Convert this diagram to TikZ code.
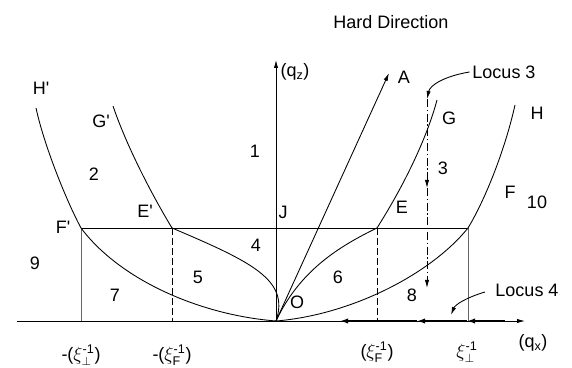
\documentclass[tikz,border=0pt]{standalone}
\usepackage{amsmath}
\usepackage{amssymb}
\usepackage{fontspec}
\setmainfont{Liberation Sans}
\usepackage{tikz}
\usetikzlibrary{arrows.meta}

\begin{document}
\begin{tikzpicture}[x=0.75pt,y=-0.75pt,
    lbl/.style={font=\fontsize{13.5}{15}\selectfont,inner sep=2pt},
    tip/.style={-{Latex[length=6pt,width=3.2pt]}},
    bound/.style={line width=0.65pt},
    locus/.style={line width=1.4pt}]
    \fill[white] (0,0) rectangle (572,366);

    % reference points
    \coordinate (O) at (276,321);
    \coordinate (qxS) at (17,321);
    \coordinate (qxE) at (525,321);
    \coordinate (qzE) at (276,60);
    \coordinate (A) at (389,73);
    \coordinate (Fp) at (81,228);
    \coordinate (Ep) at (172,228);
    \coordinate (E) at (377,228);
    \coordinate (F) at (468,228);
    \coordinate (Fpb) at (81,321);
    \coordinate (Epb) at (172,321);
    \coordinate (Eb) at (377,321);
    \coordinate (Fb) at (468,321);
    \coordinate (Hp) at (36,108);
    \coordinate (Gp) at (113,106);
    \coordinate (G) at (437,100);
    \coordinate (H) at (515,105);

    % axes
    \draw[bound,tip] (qxS) -- (qxE);
    \draw[bound,tip] (O) -- (qzE);
    \draw[bound,tip] (O) -- (A);

    % boxes
    \draw[bound] (Fp) -- (F);
    \draw[bound,gray!80!black] (Fp) -- (Fpb);
    \draw[bound,gray!80!black] (F) -- (Fb);
    \draw[bound,dash pattern=on 5pt off 2.5pt] (Ep) -- (Epb);
    \draw[bound,dash pattern=on 5pt off 2.5pt] (E) -- (Eb);

    % boundaries
    \draw[bound] (Hp) .. controls (44,145) and (66,200) .. (Fp);
    \draw[bound] (Gp) .. controls (128,150) and (155,200) .. (Ep);
    \draw[bound] (E) .. controls (398,195) and (425,145) .. (G);
    \draw[bound] (F) .. controls (485,200) and (505,150) .. (H);
    \draw[bound] (Ep) .. controls (252,262) and (290,280) .. (O);
    \draw[bound] (O) .. controls (300,270) and (340,246) .. (E);
    \draw[bound] (Fp) .. controls (120,280) and (200,315) .. (O);
    \draw[bound] (F) .. controls (430,275) and (350,315) .. (O);

    % locus 3
    \coordinate (L3top) at (427,99);
    \coordinate (L3mid) at (427,188);
    \coordinate (L3end) at (427,288);
    \draw[bound,tip,dash pattern=on 6pt off 2pt on 1pt off 2pt] (L3top) -- (L3mid);
    \draw[bound,tip,dash pattern=on 6pt off 2pt on 1pt off 2pt] (L3mid) -- (L3end);
    \node[lbl] (loc3) at (504,72) {Locus 3};
    \draw[bound,tip] (loc3.west) .. controls (445,76) and (430,85) .. (L3top);

    % locus 4
    \coordinate (L4a) at (505,321);
    \coordinate (L4b) at (467,321);
    \coordinate (L4c) at (417,321);
    \coordinate (L4d) at (340,321);
    \draw[locus,-{Latex[length=6pt,width=4pt]}] (L4a) -- (L4b);
    \draw[locus,-{Latex[length=6pt,width=4pt]}] (L4b) -- (L4c);
    \draw[locus,-{Latex[length=6pt,width=4pt]}] (L4c) -- (L4d);
    \node[lbl] (loc4) at (527,290) {Locus 4};
    \coordinate (loc4tail) at (485,292);
    \coordinate (loc4head) at (451,315);
    \draw[bound,tip] (loc4tail) .. controls (465,298) and (455,305) .. (loc4head);

    % labels
    \node[lbl] (hard) at (391,22) {Hard Direction};
    \node[lbl] (qz) at (295,72) {(q\textsubscript{z})};
    \node[lbl] (lA) at (404,77) {A};
    \node[lbl] (lHp) at (41,88) {H\textquotesingle};
    \node[lbl] (lGp) at (101,121) {G\textquotesingle};
    \node[lbl] (lG) at (449,118) {G};
    \node[lbl] (lH) at (537,113) {H};
    \node[lbl] (r1) at (255,151) {1};
    \node[lbl] (r2) at (94,174) {2};
    \node[lbl] (r3) at (443,168) {3};
    \node[lbl] (lEp) at (145,211) {E\textquotesingle};
    \node[lbl] (lJ) at (283,212) {J};
    \node[lbl] (lE) at (402,207) {E};
    \node[lbl] (lF) at (510,192) {F};
    \node[lbl] (r10) at (537,202) {10};
    \node[lbl] (lFp) at (63,227) {F\textquotesingle};
    \node[lbl] (r4) at (256,245) {4};
    \node[lbl] (r9) at (35,263) {9};
    \node[lbl] (r5) at (198,277) {5};
    \node[lbl] (r6) at (338,277) {6};
    \node[lbl] (r7) at (115,295) {7};
    \node[lbl] (r8) at (412,295) {8};
    \node[lbl] (lO) at (297,302) {O};
    \node[lbl] (qx) at (533,343) {(q\textsubscript{x})};
    \node[lbl] (xpm) at (81,355) {-($\xi^{\text{-1}}_{\perp}$)};
    \node[lbl] (xfm) at (172,355) {-($\xi^{\text{-1}}_{\text{F}}$)};
    \node[lbl] (xfp) at (377,352) {($\xi^{\text{-1}}_{\text{F}}$)};
    \node[lbl] (xpp) at (467,352) {$\xi^{\text{-1}}_{\perp}$};
\end{tikzpicture}
\end{document}
